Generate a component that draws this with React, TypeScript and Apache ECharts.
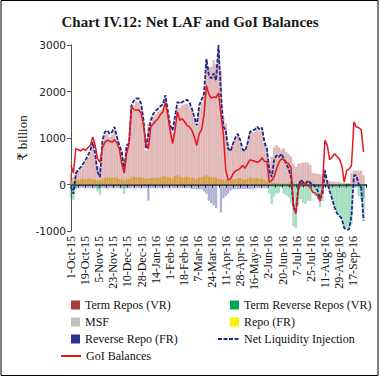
import React, { useEffect, useRef } from 'react';
import * as echarts from 'echarts';

// Tick labels of the date axis (one every 17.5 days from 1-Oct-15)
const xLabels = [
  '1-Oct-15', '19-Oct-15', '5-Nov-15', '23-Nov-15', '10-Dec-15', '28-Dec-15',
  '14-Jan-16', '1-Feb-16', '18-Feb-16', '7-Mar-16', '24-Mar-16', '11-Apr-16',
  '28-Apr-16', '16-May-16', '2-Jun-16', '20-Jun-16', '7-Jul-16', '25-Jul-16',
  '11-Aug-16', '29-Aug-16', '17-Sep-16',
];
const labelStepDays = 17.5;
const sampleStepDays = 3; // one observation every 3 days from 1-Oct-15

// ₹ billion
const netLiquidity = [
  -50, -200, 230, 320, 370, 445, 530, 625, 730, 910,
  660, 265, 160, 950, 1130, 1165, 1090, 1130, 1240, 1020,
  840, 700, 300, 840, 880, 1700, 1800, 1850, 1850, 1740,
  1380, 770, 1090, 1380, 1520, 1580, 1630, 1680, 1725, 1920,
  1600, 1270, 1165, 1450, 1775, 1740, 1775, 1800, 1825, 1760,
  1630, 1450, 1270, 1700, 1825, 1950, 2700, 2350, 2280, 2390,
  2240, 3000, 1955, 1240, 1165, 770, 720, 880, 1010, 1090,
  950, 750, 720, 880, 1130, 1165, 1180, 1240, 1180, 1220,
  910, 770, 300, 160, 520, 625, 590, 660, 555, 445,
  340, 160, -490, -600, -60, 100, 50, 15, 85, 30,
  15, -45, -130, -310, -200, 300, 50, -145, -310, -490,
  -620, -670, -740, -935, -970, -965, -670, 195, 195, 0,
  -60, -780,
];

const goiBalances = [
  410, 245, 770, 750, 720, 770, 730, 790, 840, 1020,
  840, 550, 480, 790, 910, 950, 935, 910, 965, 890,
  770, 445, 245, 660, 880, 1680, 1610, 1600, 1600, 1540,
  1270, 880, 770, 1240, 1300, 1365, 1415, 1510, 1560, 1775,
  1490, 1165, 880, 1165, 1560, 1380, 1415, 1345, 1270, 1240,
  1165, 1020, 840, 1090, 1180, 1490, 2130, 1940, 1860, 1880,
  1870, 1970, 1520, 1090, 300, 100, 120, 230, 290, 315,
  350, 410, 350, 445, 530, 515, 500, 480, 500, 575,
  500, 495, 50, 85, 160, 340, 480, 550, 530, 480,
  445, 360, -450, -630, -130, 30, 15, 30, -20, -70,
  -165, -185, -240, -360, -60, 950, 840, 530, 590, 660,
  600, 555, 410, 50, 300, 330, 410, 1345, 1240, 1220,
  1180, 700,
];

const repoFR = [
  80, 60, 100, 100, 110, 120, 110, 120, 130, 120,
  100, 100, 80, 130, 140, 150, 150, 140, 160, 150,
  120, 110, 80, 120, 120, 160, 170, 150, 160, 150,
  140, 120, 130, 140, 140, 150, 140, 160, 170, 180,
  160, 140, 120, 180, 200, 170, 150, 160, 170, 150,
  140, 130, 120, 150, 160, 180, 200, 170, 150, 160,
  150, 120, 105, 100, 100, 100, 90, 110, 120, 130,
  140, 110, 100, 120, 150, 140, 130, 140, 120, 130,
  100, 60, 30, 30, 30, 30, 20, 20, 20, 20,
  20, 20, 20, 10, 10, 10, 10, 10, 10, 10,
  10, 10, 10, 10, 10, 20, 20, 10, 10, 10,
  10, 10, 10, 10, 0, 0, 10, 10, 10, 10,
  10, 10,
];

const termRepos = [
  250, 150, 300, 300, 330, 400, 500, 580, 680, 870,
  640, 400, 380, 900, 1070, 1100, 1020, 1070, 1160, 950,
  800, 680, 500, 800, 840, 1620, 1710, 1780, 1770, 1670,
  1320, 730, 1310, 1320, 1460, 1510, 1570, 1600, 1640, 1820,
  1520, 1210, 1125, 1350, 1655, 1650, 1705, 1720, 1735, 1690,
  1590, 1420, 1250, 1650, 1765, 1920, 2700, 2530, 2530, 2680,
  2600, 2880, 2450, 1440, 1315, 870, 760, 870, 990, 1060,
  910, 740, 720, 860, 1080, 1125, 1130, 1180, 1140, 1170,
  890, 790, 500, 600, 800, 850, 800, 750, 780, 700,
  650, 600, 450, 380, 450, 460, 470, 480, 470, 420,
  250, 240, 230, 220, 200, 330, 100, 80, 60, 60,
  50, 50, 40, 40, 30, 30, 250, 300, 300, 300,
  300, 200,
];

const msf = [
  0, 0, 0, 0, 0, 0, 0, 0, 0, 0,
  0, 0, 0, 0, 0, 0, 0, 0, 0, 0,
  0, 0, 0, 0, 0, 0, 0, 0, 0, 0,
  0, 0, 0, 0, 0, 0, 0, 0, 0, 0,
  0, 0, 0, 0, 0, 0, 0, 0, 0, 0,
  0, 0, 0, 0, 0, 0, 0, 0, 0, 0,
  0, 0, 0, 0, 0, 0, 0, 0, 0, 0,
  0, 0, 0, 0, 0, 0, 0, 0, 0, 0,
  0, 0, 0, 0, 0, 0, 0, 0, 0, 0,
  0, 0, 0, 0, 0, 0, 0, 0, 0, 0,
  0, 0, 0, 0, 0, 0, 0, 0, 0, 0,
  0, 0, 0, 0, 0, 0, 0, 0, 0, 0,
  0, 0,
];

const reverseRepoFR = [
  -80, -80, -80, -80, -70, -75, -80, -75, -80, -80,
  -80, -85, -80, -80, -80, -85, -80, -80, -80, -80,
  -80, -90, -80, -80, -80, -80, -80, -80, -80, -80,
  -80, -80, -350, -80, -80, -80, -80, -80, -85, -80,
  -80, -80, -80, -80, -80, -80, -80, -80, -80, -80,
  -100, -100, -100, -100, -100, -150, -200, -350, -400, -450,
  -510, 0, -600, -300, -250, -200, -130, -100, -100, -100,
  -100, -100, -100, -100, -100, -100, -80, -80, -80, -80,
  -80, -80, -30, -50, -50, -55, -50, -50, -45, -45,
  -50, -60, -60, -60, -60, -50, -50, -55, -45, -50,
  -45, -45, -50, -60, -50, -50, -70, -55, -50, -60,
  -60, -60, -60, -65, -60, -60, -60, -55, -55, -60,
  -60, -290,
];

const termReverseRepos = [
  -300, -330, -90, 0, 0, 0, 0, 0, 0, 0,
  0, -150, -220, 0, 0, 0, 0, 0, 0, 0,
  0, 0, -200, 0, 0, 0, 0, 0, 0, 0,
  0, 0, 0, 0, 0, 0, 0, 0, 0, 0,
  0, 0, 0, 0, 0, 0, 0, 0, 0, 0,
  0, 0, 0, 0, 0, 0, 0, 0, 0, 0,
  0, 0, 0, 0, 0, 0, 0, 0, 0, 0,
  0, 0, 0, 0, 0, 0, 0, 0, 0, 0,
  0, 0, -200, -420, -260, -200, -180, -60, -200, -230,
  -280, -400, -900, -930, -460, -320, -380, -420, -350, -350,
  -200, -250, -320, -480, -360, 0, 0, -180, -330, -500,
  -620, -670, -730, -920, -940, -935, -870, -60, -60, -250,
  -310, -700,
];

const SERIF = "'Liberation Serif', 'DejaVu Serif', serif";
const SANS = "'DejaVu Sans', 'Liberation Sans', sans-serif";

export default function App() {
  const ref = useRef<HTMLDivElement>(null);

  useEffect(() => {
    document.body.style.margin = '0';
    const chart = echarts.init(ref.current!, null, { renderer: 'svg' });
    const pts = (arr: number[]) => arr.map((v, i) => [i * sampleStepDays, v]);

    const bar = (name: string, data: number[], color: string) => ({
      name,
      type: 'bar',
      stack: 'liq',
      barWidth: 2.3,
      data: pts(data),
      itemStyle: { color },
      emphasis: { disabled: true },
      silent: true,
    });

    const legendBase = (left: number, top: number, item: any, w = 9, h = 9) => ({
      left,
      top,
      padding: 0,
      itemWidth: w,
      itemHeight: h,
      selectedMode: false,
      textStyle: { fontFamily: SERIF, fontSize: 12, color: '#111' },
      data: [item],
    });

    const hiddenSymbol = { opacity: 0, borderWidth: 0 };

    const option: any = {
      animation: false,
      backgroundColor: '#fff',
      title: {
        text: 'Chart IV.12: Net LAF and GoI Balances',
        left: 'center',
        top: 9,
        textStyle: { fontFamily: SERIF, fontWeight: 'bold', fontSize: 15, color: '#1a1a1a' },
      },
      graphic: [
        {
          type: 'rect',
          shape: { x: 1, y: 0.5, width: 377, height: 375 },
          style: { fill: 'rgba(0,0,0,0)', stroke: '#000', lineWidth: 1 },
          silent: true,
        },
      ],
      legend: [
        legendBase(71, 299, { name: 'Term Repos (VR)', icon: 'rect', itemStyle: { color: '#A93B3B' } }),
        legendBase(230, 299, { name: 'Term Reverse Repos (VR)', icon: 'rect', itemStyle: { color: '#00A651' } }),
        legendBase(71, 316, { name: 'MSF', icon: 'rect', itemStyle: { color: '#C0C0C0' } }),
        legendBase(230, 316, { name: 'Repo (FR)', icon: 'rect', itemStyle: { color: '#FFF200' } }),
        legendBase(71, 333, { name: 'Reverse Repo (FR)', icon: 'rect', itemStyle: { color: '#2E3192' } }),
        legendBase(217, 333, { name: 'Net Liquidity Injection', itemStyle: hiddenSymbol }, 21, 9),
        legendBase(60, 350, { name: 'GoI Balances', itemStyle: hiddenSymbol }, 20, 9),
      ],
      grid: { left: 71, right: 14, top: 45, bottom: 147, containLabel: false, outerBoundsMode: 'none' },
      xAxis: [
        {
          type: 'value',
          min: 0,
          max: 366,
          interval: labelStepDays,
          position: 'bottom',
          axisLine: { show: false, onZero: false },
          axisTick: { show: false },
          splitLine: { show: false },
          axisLabel: {
            rotate: 90,
            margin: 5,
            fontFamily: SERIF,
            fontSize: 12,
            color: '#111',
            hideOverlap: false,
            showMaxLabel: false,
            formatter: (v: number) => {
              const k = Math.round(v / labelStepDays);
              if (Math.abs(v - k * labelStepDays) > 0.01) return '';
              return xLabels[k] ?? '';
            },
          },
        },
        {
          type: 'value',
          min: 0,
          max: 366,
          interval: labelStepDays / 2,
          position: 'top',
          axisLine: { show: true, onZero: true, lineStyle: { color: '#000', width: 1.5 } },
          axisTick: { show: true, inside: true, length: 3, lineStyle: { color: '#000', width: 1 } },
          axisLabel: { show: false },
          splitLine: { show: false },
        },
      ],
      yAxis: {
        type: 'value',
        min: -1000,
        max: 3000,
        interval: 1000,
        name: '₹ billion',
        nameLocation: 'middle',
        nameGap: 42,
        nameMoveOverlap: false,
        nameTextStyle: { fontFamily: SERIF, fontSize: 13, color: '#111' },
        axisLine: { show: true, lineStyle: { color: '#555', width: 1 } },
        axisTick: { show: true, length: 4, lineStyle: { color: '#555' } },
        axisLabel: {
          fontFamily: SANS,
          fontSize: 10.5,
          color: '#222',
          margin: 5,
          formatter: (v: number) => String(v),
        },
        splitLine: { show: false },
      },
      series: [
        bar('Repo (FR)', repoFR, 'rgba(236,214,60,0.85)'),
        bar('Term Repos (VR)', termRepos, 'rgba(165,42,42,0.34)'),
        bar('MSF', msf, 'rgba(160,160,160,0.6)'),
        bar('Reverse Repo (FR)', reverseRepoFR, 'rgba(46,49,146,0.38)'),
        bar('Term Reverse Repos (VR)', termReverseRepos, 'rgba(0,166,81,0.36)'),
        {
          name: 'Net Liquidity Injection',
          type: 'line',
          data: pts(netLiquidity),
          symbol: 'none',
          showSymbol: false,
          lineStyle: { color: '#1B2A8C', width: 1.8, type: [4, 1.5] },
          itemStyle: { color: '#1B2A8C' },
          emphasis: { disabled: true },
          silent: true,
          z: 4,
        },
        {
          name: 'GoI Balances',
          type: 'line',
          data: pts(goiBalances),
          symbol: 'none',
          showSymbol: false,
          lineStyle: { color: '#E4161E', width: 1.5 },
          itemStyle: { color: '#E4161E' },
          emphasis: { disabled: true },
          silent: true,
          z: 5,
        },
      ],
    };

    chart.setOption(option);
    return () => chart.dispose();
  }, []);

  return <div ref={ref} style={{ width: 380, height: 378 }} />;
}
